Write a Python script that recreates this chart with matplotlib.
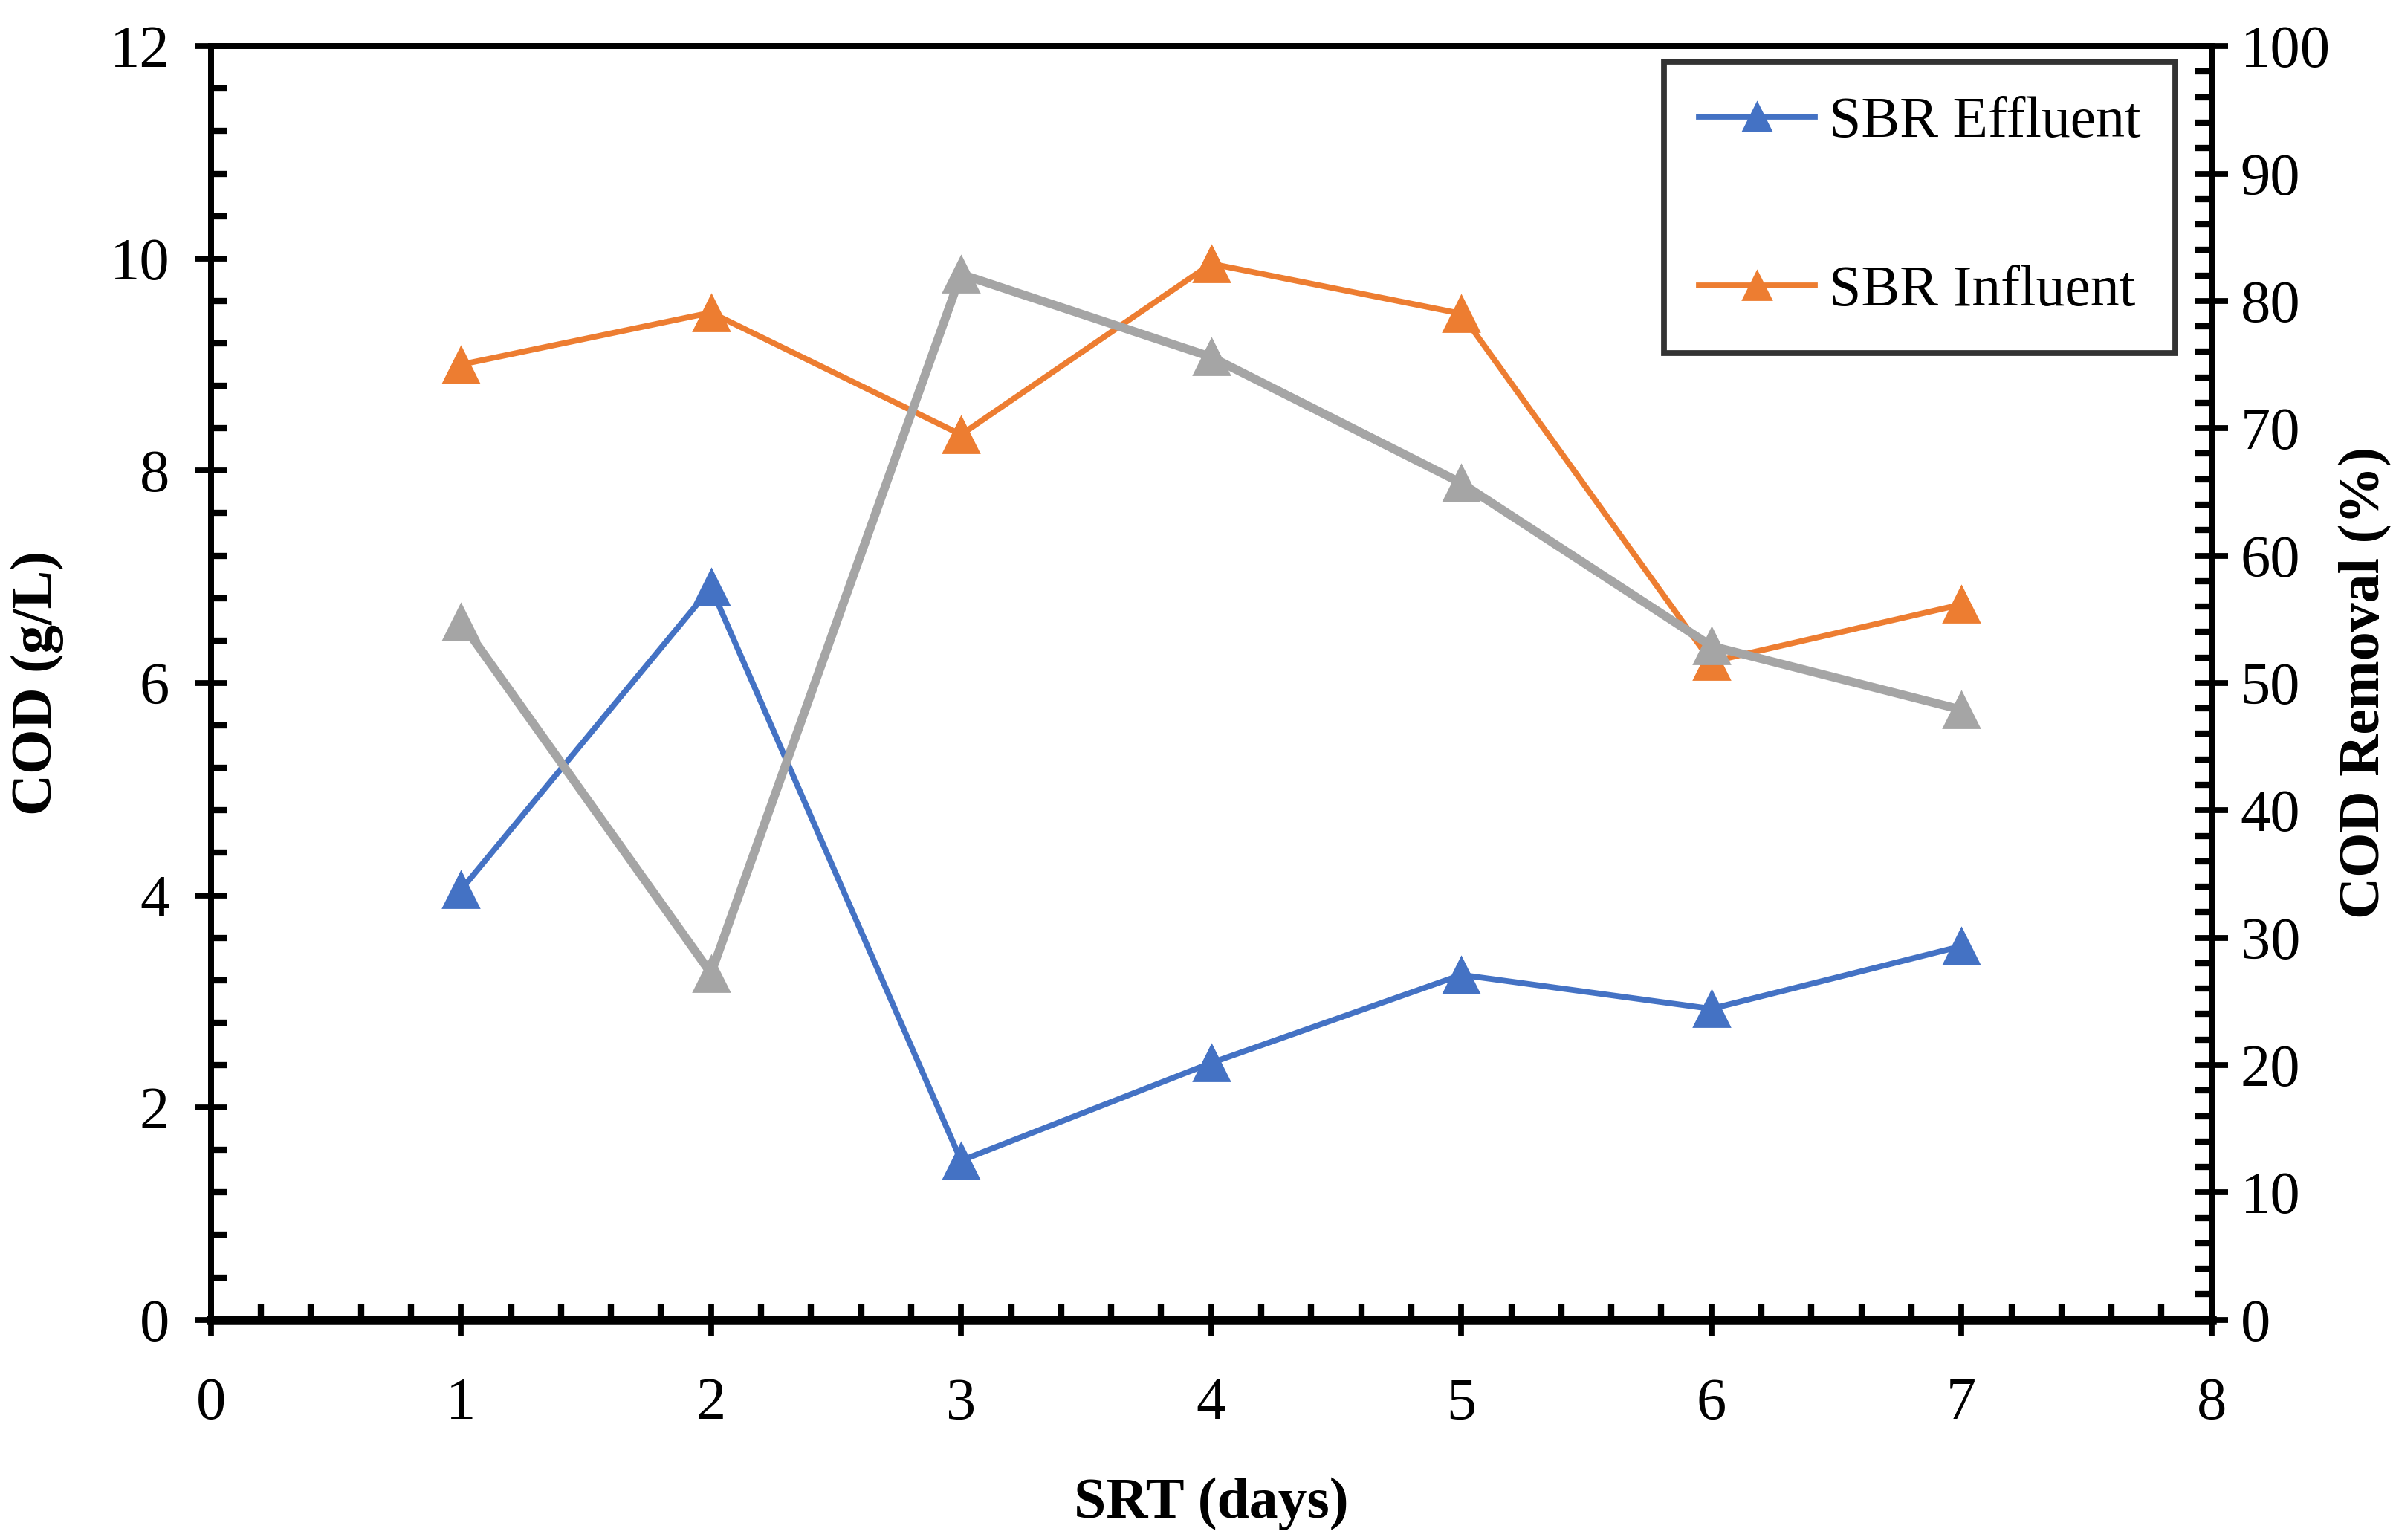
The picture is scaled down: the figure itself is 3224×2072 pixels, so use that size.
import matplotlib.pyplot as plt
from matplotlib.ticker import MultipleLocator

plt.rcParams['font.family'] = ['Liberation Serif', 'DejaVu Serif']

srt = [1, 2, 3, 4, 5, 6, 7]
effluent = [4.05, 6.9, 1.5, 2.42, 3.25, 2.93, 3.52]
influent = [9.0, 9.49, 8.34, 9.95, 9.48, 6.2, 6.74]
removal = [54.8, 27.2, 82.1, 75.6, 65.7, 52.9, 47.9]

blue = '#4472C4'
orange = '#ED7D31'
grey = '#A5A5A5'

fig = plt.figure(figsize=(16.12, 10.36), dpi=200)
ax = fig.add_axes([0.088, 0.143, 0.835, 0.827])
ax2 = ax.twinx()

l1, = ax.plot(srt, effluent, color=blue, lw=2.8, marker='^', ms=17, label='SBR Effluent')
l2, = ax.plot(srt, influent, color=orange, lw=2.8, marker='^', ms=17, label='SBR Influent')
ax2.plot(srt, removal, color=grey, lw=4.2, marker='^', ms=17)

ax.set_xlim(0, 8)
ax.set_ylim(0, 12)
ax2.set_ylim(0, 100)

ax.xaxis.set_major_locator(MultipleLocator(1))
ax.xaxis.set_minor_locator(MultipleLocator(0.2))
ax.yaxis.set_major_locator(MultipleLocator(2))
ax.yaxis.set_minor_locator(MultipleLocator(0.4))
ax2.yaxis.set_major_locator(MultipleLocator(10))
ax2.yaxis.set_minor_locator(MultipleLocator(2))

for a in (ax, ax2):
    for s in a.spines.values():
        s.set_linewidth(2.8)
ax.spines['bottom'].set_linewidth(4.5)

ax.tick_params(axis='both', which='major', direction='inout', length=16, width=2.8, labelsize=29)
ax.tick_params(axis='both', which='minor', direction='in', length=8, width=3)
ax.tick_params(axis='x', which='major', pad=20)
ax.tick_params(axis='y', which='major', pad=12)
ax2.tick_params(axis='y', which='major', direction='inout', length=16, width=2.8, labelsize=29, pad=6)
ax2.tick_params(axis='y', which='minor', direction='in', length=8, width=3)

ax.set_xlabel('SRT (days)', fontsize=28, fontweight='bold', labelpad=22)
ax.set_ylabel('COD (g/L)', fontsize=28, fontweight='bold', labelpad=22)
ax2.set_ylabel('COD Removal (%)', fontsize=28, fontweight='bold', labelpad=4)

leg = ax2.legend(handles=[l1, l2], loc='upper right', bbox_to_anchor=(0.982, 0.988),
                 fontsize=28, frameon=True, fancybox=False, labelspacing=2.0,
                 borderpad=0.6, handlelength=2.0, handletextpad=0.25, borderaxespad=0)
leg.get_frame().set_edgecolor('black')
leg.get_frame().set_linewidth(2.8)
for h in leg.legend_handles:
    h.set_markersize(14)

fig.savefig('out.png', dpi=200, facecolor='white')
